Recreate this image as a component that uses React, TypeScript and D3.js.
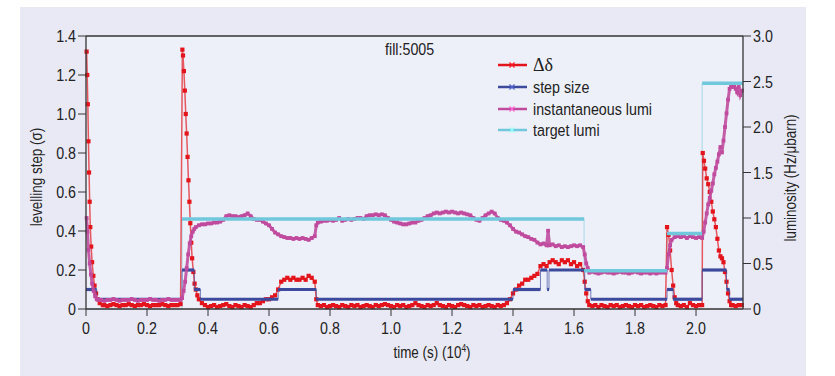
import React from "react";
import * as d3 from "d3";

// ---------- data ----------
const X_TICKS = [0, 0.2, 0.4, 0.6, 0.8, 1.0, 1.2, 1.4, 1.6, 1.8, 2.0];
const Y_LEFT_TICKS = [0, 0.2, 0.4, 0.6, 0.8, 1.0, 1.2, 1.4];
const Y_RIGHT_TICKS = [0, 0.5, 1.0, 1.5, 2.0, 2.5, 3.0];
const FILL_LABEL = "fill:5005";
const LEGEND = ["Δδ", "step size", "instantaneous lumi", "target lumi"];

// Δδ (levelling step, sigma) : [time (1e4 s), value]
const DELTA: [number, number][] = [
  [0.002, 1.32], [0.004, 1.2], [0.006, 1.05], [0.008, 0.86], [0.01, 0.7], [0.012, 0.55], [0.014, 0.42],
  [0.017, 0.32], [0.02, 0.24], [0.024, 0.17], [0.028, 0.12], [0.033, 0.08], [0.038, 0.05], [0.045, 0.03],
  [0.055, 0.02], [0.06, 0.02], [0.07, 0.015], [0.08, 0.02], [0.09, 0.025], [0.1, 0.02], [0.11, 0.015],
  [0.12, 0.02], [0.13, 0.02], [0.14, 0.025], [0.15, 0.02], [0.16, 0.015], [0.17, 0.02], [0.18, 0.02],
  [0.19, 0.025], [0.2, 0.02], [0.21, 0.015], [0.22, 0.02], [0.23, 0.02], [0.24, 0.02], [0.25, 0.025],
  [0.26, 0.02], [0.27, 0.015], [0.28, 0.02], [0.29, 0.02], [0.3, 0.02], [0.31, 0.025],
  [0.316, 1.33], [0.318, 1.3], [0.321, 1.22], [0.324, 1.12], [0.327, 1.0], [0.33, 0.9], [0.333, 0.78],
  [0.336, 0.66], [0.339, 0.55], [0.342, 0.44], [0.345, 0.34], [0.348, 0.26], [0.352, 0.19], [0.356, 0.13],
  [0.36, 0.1], [0.365, 0.07], [0.37, 0.05], [0.38, 0.03],
  [0.39, 0.02], [0.4, 0.01], [0.41, 0.015], [0.42, 0.02], [0.43, 0.01], [0.44, 0.015], [0.45, 0.02],
  [0.46, 0.025], [0.47, 0.015], [0.48, 0.01], [0.49, 0.02], [0.5, 0.015], [0.51, 0.01], [0.52, 0.02],
  [0.53, 0.015], [0.54, 0.01], [0.55, 0.02], [0.56, 0.03],
  [0.57, 0.03], [0.58, 0.04], [0.59, 0.05], [0.6, 0.05], [0.61, 0.06], [0.62, 0.07], [0.63, 0.1],
  [0.64, 0.14], [0.65, 0.15], [0.66, 0.16], [0.67, 0.15], [0.68, 0.16], [0.69, 0.15], [0.7, 0.15],
  [0.71, 0.16], [0.72, 0.15], [0.73, 0.17], [0.74, 0.16], [0.75, 0.14], [0.755, 0.05], [0.76, 0.02],
  [0.77, 0.015], [0.78, 0.02], [0.79, 0.01], [0.8, 0.015], [0.81, 0.02], [0.82, 0.015], [0.83, 0.01],
  [0.84, 0.02], [0.85, 0.015], [0.86, 0.01], [0.87, 0.02], [0.88, 0.015], [0.89, 0.02], [0.9, 0.01],
  [0.91, 0.015], [0.92, 0.02], [0.93, 0.015], [0.94, 0.01], [0.95, 0.02], [0.96, 0.015], [0.97, 0.02],
  [0.98, 0.025], [0.99, 0.02], [1.0, 0.015], [1.01, 0.01], [1.02, 0.02], [1.03, 0.015], [1.04, 0.02],
  [1.05, 0.01], [1.06, 0.015], [1.07, 0.02], [1.08, 0.03], [1.09, 0.02], [1.1, 0.015], [1.11, 0.01],
  [1.12, 0.02], [1.13, 0.015], [1.14, 0.02], [1.15, 0.03], [1.16, 0.02], [1.17, 0.015], [1.18, 0.01],
  [1.19, 0.02], [1.2, 0.015], [1.21, 0.01], [1.22, 0.02], [1.23, 0.025], [1.24, 0.02], [1.25, 0.015],
  [1.26, 0.01], [1.27, 0.02], [1.28, 0.015], [1.29, 0.02], [1.3, 0.01], [1.31, 0.015], [1.32, 0.02],
  [1.33, 0.015], [1.34, 0.01], [1.35, 0.02], [1.36, 0.015], [1.37, 0.02],
  [1.38, 0.03], [1.39, 0.05], [1.4, 0.08], [1.41, 0.1], [1.42, 0.12], [1.43, 0.13], [1.44, 0.15],
  [1.45, 0.15], [1.46, 0.16], [1.47, 0.17], [1.48, 0.18], [1.49, 0.22], [1.5, 0.23], [1.51, 0.22],
  [1.52, 0.24], [1.53, 0.25], [1.54, 0.24], [1.55, 0.23], [1.56, 0.25], [1.57, 0.24], [1.58, 0.25],
  [1.59, 0.23], [1.6, 0.24], [1.61, 0.22], [1.62, 0.23], [1.63, 0.2], [1.635, 0.14], [1.64, 0.08],
  [1.645, 0.04], [1.65, 0.02],
  [1.66, 0.015], [1.67, 0.02], [1.68, 0.01], [1.69, 0.02], [1.7, 0.015], [1.71, 0.01], [1.72, 0.02],
  [1.73, 0.015], [1.74, 0.02], [1.75, 0.01], [1.76, 0.015], [1.77, 0.02], [1.78, 0.015], [1.79, 0.01],
  [1.8, 0.02], [1.81, 0.015], [1.82, 0.02], [1.83, 0.01], [1.84, 0.015], [1.85, 0.02], [1.86, 0.015],
  [1.87, 0.01], [1.88, 0.02], [1.89, 0.015], [1.9, 0.02],
  [1.905, 0.42], [1.91, 0.38], [1.915, 0.3], [1.92, 0.2], [1.925, 0.12], [1.93, 0.06], [1.935, 0.03],
  [1.94, 0.02], [1.95, 0.015], [1.96, 0.02], [1.97, 0.01], [1.98, 0.03], [1.99, 0.02], [2.0, 0.015],
  [2.01, 0.02], [2.02, 0.02],
  [2.022, 0.8], [2.026, 0.76], [2.03, 0.72], [2.035, 0.67], [2.04, 0.64], [2.045, 0.6], [2.05, 0.55],
  [2.055, 0.5], [2.06, 0.46], [2.065, 0.42], [2.07, 0.36], [2.075, 0.3], [2.08, 0.27], [2.085, 0.26],
  [2.09, 0.24], [2.095, 0.19], [2.1, 0.14], [2.105, 0.08], [2.11, 0.04], [2.115, 0.02], [2.12, 0.02],
  [2.13, 0.015], [2.14, 0.02], [2.15, 0.02],
];

// step size (sigma), step-after
const STEP: [number, number][] = [
  [0, 0.1], [0.035, 0.05], [0.315, 0.2], [0.355, 0.1], [0.375, 0.05], [0.63, 0.1], [0.755, 0.05],
  [1.4, 0.1], [1.49, 0.2], [1.512, 0.1], [1.518, 0.2], [1.635, 0.1], [1.655, 0.05], [1.905, 0.1],
  [1.925, 0.05], [2.02, 0.2], [2.1, 0.1], [2.11, 0.05], [2.154, 0.05],
];

// instantaneous luminosity (Hz/µbarn)
const LUMI: [number, number][] = [
  [0.002, 1.0], [0.005, 0.85], [0.008, 0.65], [0.012, 0.5], [0.016, 0.38], [0.02, 0.28], [0.025, 0.2],
  [0.03, 0.14], [0.035, 0.11], [0.04, 0.1], [0.05, 0.1], [0.06, 0.09], [0.07, 0.1], [0.08, 0.1],
  [0.09, 0.11], [0.1, 0.1], [0.11, 0.09], [0.12, 0.1], [0.13, 0.1], [0.14, 0.1], [0.15, 0.11], [0.16, 0.1],
  [0.17, 0.09], [0.18, 0.1], [0.19, 0.1], [0.2, 0.1], [0.21, 0.11], [0.22, 0.1], [0.23, 0.1], [0.24, 0.09],
  [0.25, 0.1], [0.26, 0.1], [0.27, 0.11], [0.28, 0.1], [0.29, 0.1], [0.3, 0.1], [0.31, 0.1],
  [0.315, 0.12], [0.32, 0.2], [0.325, 0.3], [0.33, 0.45], [0.335, 0.6], [0.34, 0.72], [0.345, 0.8],
  [0.35, 0.85], [0.355, 0.88], [0.36, 0.9], [0.37, 0.92], [0.38, 0.93], [0.39, 0.93], [0.4, 0.94],
  [0.41, 0.94], [0.42, 0.95], [0.43, 0.95], [0.44, 0.96], [0.45, 0.98], [0.46, 1.02], [0.47, 1.03],
  [0.48, 1.02], [0.49, 1.02], [0.5, 1.01], [0.51, 1.02], [0.52, 1.03], [0.53, 1.05], [0.54, 1.02],
  [0.55, 0.99], [0.56, 0.98], [0.57, 0.98], [0.58, 0.96], [0.59, 0.94], [0.6, 0.92], [0.61, 0.88],
  [0.62, 0.84], [0.63, 0.82], [0.64, 0.8], [0.65, 0.79], [0.66, 0.78], [0.67, 0.78], [0.68, 0.77],
  [0.69, 0.78], [0.7, 0.77], [0.71, 0.78], [0.72, 0.77], [0.73, 0.76], [0.74, 0.78], [0.75, 0.8],
  [0.755, 0.92], [0.76, 0.95], [0.77, 0.96], [0.78, 0.97], [0.79, 0.97], [0.8, 0.98], [0.81, 0.97],
  [0.82, 0.98], [0.83, 1.0], [0.84, 0.97], [0.85, 0.98], [0.86, 0.99], [0.87, 0.98], [0.88, 0.99],
  [0.89, 1.0], [0.9, 1.0], [0.91, 0.99], [0.92, 1.02], [0.93, 1.03], [0.94, 1.03], [0.95, 1.04],
  [0.96, 1.03], [0.97, 1.04], [0.98, 1.03], [0.99, 1.0], [1.0, 0.98], [1.01, 0.96], [1.02, 0.95],
  [1.03, 0.94], [1.04, 0.93], [1.05, 0.93], [1.06, 0.94], [1.07, 0.95], [1.08, 0.95], [1.09, 0.97],
  [1.1, 0.98], [1.11, 1.0], [1.12, 1.02], [1.13, 1.03], [1.14, 1.05], [1.15, 1.06], [1.16, 1.05],
  [1.17, 1.06], [1.18, 1.07], [1.19, 1.06], [1.2, 1.07], [1.21, 1.06], [1.22, 1.05], [1.23, 1.06],
  [1.24, 1.05], [1.25, 1.04], [1.26, 1.03], [1.27, 1.0], [1.28, 0.98], [1.29, 0.97], [1.3, 1.0],
  [1.31, 1.03], [1.32, 1.05], [1.33, 1.07], [1.34, 1.05], [1.35, 1.0], [1.36, 0.98], [1.37, 0.97],
  [1.38, 0.95], [1.39, 0.92], [1.4, 0.88], [1.41, 0.85], [1.42, 0.84], [1.43, 0.82], [1.44, 0.8],
  [1.45, 0.79], [1.46, 0.77], [1.47, 0.76], [1.48, 0.73], [1.49, 0.71], [1.5, 0.72], [1.51, 0.7],
  [1.515, 0.86], [1.52, 0.7], [1.53, 0.71], [1.54, 0.69], [1.55, 0.7], [1.56, 0.68], [1.57, 0.69],
  [1.58, 0.68], [1.59, 0.69], [1.6, 0.7], [1.61, 0.69], [1.62, 0.7], [1.63, 0.68], [1.635, 0.6],
  [1.64, 0.5], [1.645, 0.45], [1.65, 0.4], [1.66, 0.41], [1.67, 0.4], [1.68, 0.39], [1.69, 0.4],
  [1.7, 0.41], [1.71, 0.4], [1.72, 0.4], [1.73, 0.39], [1.74, 0.4], [1.75, 0.41], [1.76, 0.4],
  [1.77, 0.4], [1.78, 0.39], [1.79, 0.4], [1.8, 0.41], [1.81, 0.4], [1.82, 0.39], [1.83, 0.4],
  [1.84, 0.4], [1.85, 0.39], [1.86, 0.4], [1.87, 0.39], [1.88, 0.4], [1.89, 0.4], [1.9, 0.4],
  [1.905, 0.45], [1.91, 0.6], [1.915, 0.7], [1.92, 0.76], [1.93, 0.79], [1.94, 0.8], [1.95, 0.79],
  [1.96, 0.8], [1.97, 0.78], [1.98, 0.8], [1.99, 0.79], [2.0, 0.78], [2.01, 0.79], [2.02, 0.78],
  [2.025, 0.85], [2.03, 0.95], [2.035, 1.05], [2.04, 1.15], [2.045, 1.22], [2.05, 1.3], [2.055, 1.38],
  [2.06, 1.48], [2.065, 1.55], [2.07, 1.62], [2.075, 1.7], [2.08, 1.78], [2.085, 1.72], [2.09, 1.85],
  [2.095, 2.0], [2.1, 2.15], [2.105, 2.3], [2.11, 2.42], [2.115, 2.45], [2.12, 2.44], [2.125, 2.46],
  [2.13, 2.42], [2.135, 2.38], [2.14, 2.44], [2.145, 2.35], [2.15, 2.4],
];

// target luminosity (Hz/µbarn), step-after
const TARGET: [number, number][] = [
  [0, 0], [0.315, 0.99], [1.633, 0.42], [1.905, 0.83], [2.02, 2.48], [2.154, 2.48],
];

// ---------- styles ----------
const W = 835;
const H = 376;
const FONT = "'Liberation Sans', Arial, sans-serif";
const SX = 0.84; // horizontal condensing of the text
const C_RED = "#e3141c";
const C_BLUE = "#3c4a9e";
const C_MAG = "#c04b9e";
const C_CYAN = "#70c8dc";
const AXIS = "#333";

type NTProps = {
  x: number; y: number; size: number; anchor?: "start" | "middle" | "end"; rotate?: number;
  family?: string; sx?: number; children: React.ReactNode;
};
function NText({ x, y, size, anchor = "start", rotate = 0, family = FONT, sx = SX, children }: NTProps) {
  return (
    <text transform={`translate(${x},${y}) rotate(${rotate}) scale(${sx},1)`} textAnchor={anchor}
      fontFamily={family} fontSize={size} fill="#222">
      {children}
    </text>
  );
}

export default function App() {
  const x = d3.scaleLinear().domain([0, 2.154]).range([86, 743]);
  const yL = d3.scaleLinear().domain([0, 1.4]).range([309, 36]);
  const yR = d3.scaleLinear().domain([0, 3]).range([309, 36]);

  const lineL = d3.line<[number, number]>().x((d) => x(d[0])).y((d) => yL(d[1]));
  const lineR = d3.line<[number, number]>().x((d) => x(d[0])).y((d) => yR(d[1]));
  const stepL = d3.line<[number, number]>().x((d) => x(d[0])).y((d) => yL(d[1])).curve(d3.curveStepAfter);
  const stepR = d3.line<[number, number]>().x((d) => x(d[0])).y((d) => yR(d[1])).curve(d3.curveStepAfter);

  const fmt = (v: number) => (v === 0 ? "0" : v.toFixed(1));
  const legendColors = [C_RED, C_BLUE, C_MAG, C_CYAN];
  const legendY = [65, 87, 109, 130];
  const targetSegs = TARGET.slice(0, -1)
    .map((d, i) => [d[0], TARGET[i + 1][0], d[1]] as [number, number, number])
    .filter((s) => s[2] > 0);

  return (
    <div style={{ position: "absolute", left: 0, top: 0 }}>
      <svg width={W} height={H} style={{ display: "block" }}>
        <rect x={0} y={0} width={W} height={H} fill="#ffffff" />
        <rect x={20} y={7} width={786} height={369} fill="#e9e9f5" />
        <rect x={x(0)} y={yL(1.4)} width={x(2.154) - x(0)} height={yL(0) - yL(1.4)} fill="#eef0f9" />

        {/* target lumi (thin connector) */}
        <path d={stepR(TARGET) || ""} fill="none" stroke={C_CYAN} strokeWidth={0.8} opacity={0.7} />

        {/* Δδ */}
        <path d={lineL(DELTA) || ""} fill="none" stroke={C_RED} strokeWidth={1.5} opacity={0.7} />
        {DELTA.map((d, i) => (
          <rect key={"r" + i} x={x(d[0]) - 2.1} y={yL(d[1]) - 2.1} width={4.2} height={4.2} fill={C_RED} />
        ))}

        {/* step size */}
        <path d={stepL(STEP) || ""} fill="none" stroke={C_BLUE} strokeWidth={1} opacity={0.7} />
        {STEP.slice(0, -1).map((d, i) => (
          <line key={"s" + i} x1={x(d[0])} x2={x(STEP[i + 1][0])} y1={yL(d[1])} y2={yL(d[1])}
            stroke={C_BLUE} strokeWidth={3.2} />
        ))}

        {/* instantaneous lumi */}
        <path d={lineR(LUMI) || ""} fill="none" stroke={C_MAG} strokeWidth={3} opacity={0.9} />
        {LUMI.map((d, i) => (
          <rect key={"m" + i} x={x(d[0]) - 1.9} y={yR(d[1]) - 1.9} width={3.8} height={3.8} fill={C_MAG} />
        ))}

        {/* target lumi thick parts */}
        {targetSegs.map((s, i) => (
          <line key={"t" + i} x1={x(s[0])} x2={x(s[1])} y1={yR(s[2])} y2={yR(s[2])}
            stroke={C_CYAN} strokeWidth={3.5} />
        ))}

        {/* frame */}
        <line x1={x(0)} x2={x(2.154)} y1={yL(1.4)} y2={yL(1.4)} stroke={AXIS} strokeWidth={1.3} />
        <line x1={x(0)} x2={x(2.154)} y1={yL(0)} y2={yL(0)} stroke={AXIS} strokeWidth={1.3} />
        <line x1={x(0)} x2={x(0)} y1={yL(0)} y2={yL(1.4)} stroke={AXIS} strokeWidth={1.3} />
        <line x1={x(2.154)} x2={x(2.154)} y1={yL(0)} y2={yL(1.4)} stroke={AXIS} strokeWidth={1.3} />

        {/* left axis */}
        {Y_LEFT_TICKS.map((v) => (
          <g key={"yl" + v}>
            <line x1={x(0) - 8} x2={x(0)} y1={yL(v)} y2={yL(v)} stroke={AXIS} strokeWidth={1} />
            <NText x={x(0) - 10} y={yL(v) + 6} size={17} anchor="end">{fmt(v)}</NText>
          </g>
        ))}
        {/* right axis */}
        {Y_RIGHT_TICKS.map((v) => (
          <g key={"yr" + v}>
            <line x1={x(2.154)} x2={x(2.154) + 8} y1={yR(v)} y2={yR(v)} stroke={AXIS} strokeWidth={1} />
            <NText x={x(2.154) + 10} y={yR(v) + 6} size={17}>{fmt(v)}</NText>
          </g>
        ))}
        {/* bottom axis */}
        {X_TICKS.map((v) => (
          <g key={"x" + v}>
            <line x1={x(v)} x2={x(v)} y1={yL(0)} y2={yL(0) + 7} stroke={AXIS} strokeWidth={1} />
            <NText x={x(v)} y={yL(0) + 25} size={17} anchor="middle">{fmt(v)}</NText>
          </g>
        ))}

        <NText x={432} y={358} size={16} anchor="middle">
          time (s) (10<tspan dy={-6} fontSize={10}>4</tspan><tspan dy={6}>)</tspan>
        </NText>
        <NText x={42} y={177} size={16} anchor="middle" rotate={-90}>levelling step (σ)</NText>
        <NText x={796} y={178} size={16} anchor="middle" rotate={-90}>luminosity (Hz/μbarn)</NText>

        <NText x={385} y={55} size={17}>{FILL_LABEL}</NText>

        {LEGEND.map((name, i) => (
          <g key={"lg" + i}>
            <line x1={498} x2={527} y1={legendY[i]} y2={legendY[i]} stroke={legendColors[i]} strokeWidth={2.5} />
            <path d={`M${509.5},${legendY[i] - 2.5}L${514.5},${legendY[i] + 2.5}M${509.5},${legendY[i] + 2.5}L${514.5},${legendY[i] - 2.5}`}
              stroke={d3.color(legendColors[i])!.brighter(0.8).toString()} strokeWidth={1.2} />
            {i === 0 ? (
              <NText x={533} y={legendY[i] + 6} size={18} family="'Liberation Serif', serif" sx={1}>{name}</NText>
            ) : (
              <NText x={533} y={legendY[i] + 6} size={17}>{name}</NText>
            )}
          </g>
        ))}
      </svg>
    </div>
  );
}
